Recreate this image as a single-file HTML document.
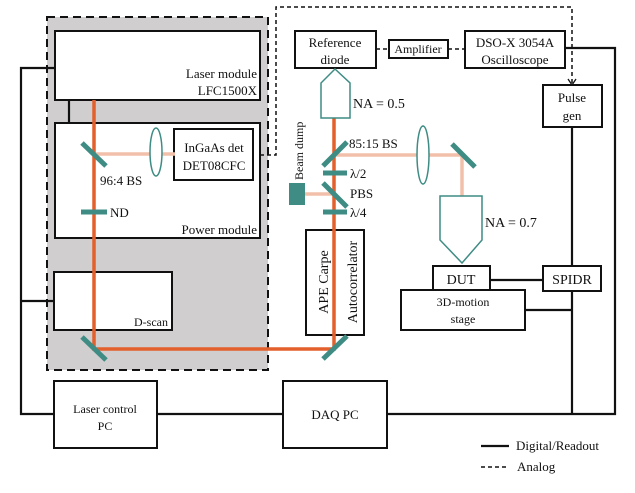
<!DOCTYPE html>
<html><head><meta charset="utf-8"><style>
body{margin:0;background:#fff}
svg text{font-family:"Liberation Serif",serif;font-size:13px;fill:#111}
</style></head><body>
<svg width="635" height="488" viewBox="0 0 635 488" xmlns="http://www.w3.org/2000/svg">
<rect x="47" y="17" width="221" height="353" fill="#d0cecf" stroke="#111" stroke-width="2" stroke-dasharray="8,5"/>
<g fill="none" stroke="#111" stroke-width="2.2">
<path d="M69,100V123"/>
<path d="M55,68H21V414H54"/>
<path d="M21,301H54"/>
<path d="M157,414H283"/>
<path d="M387,414H615V48H565"/>
<path d="M572,414V127"/>
<path d="M490,280H543"/>
<path d="M525,310H572"/>
<path d="M481,446H509"/>
</g>
<g fill="none" stroke="#111" stroke-width="1.5" stroke-dasharray="4,3">
<path d="M253,155H276V7H572V84"/>
<path d="M376,49H389M448,49H465"/>
<path d="M481,467H509"/>
</g>
<path d="M568,79L572,85L576,79" fill="none" stroke="#111" stroke-width="1.3"/>
<g fill="#fff" stroke="#111" stroke-width="2">
<rect x="55" y="31" width="205" height="69"/>
<rect x="55" y="123" width="205" height="115"/>
<rect x="54" y="272" width="118" height="58"/>
<rect x="174" y="129" width="79" height="51"/>
<rect x="54" y="381" width="103" height="67"/>
<rect x="283" y="381" width="104" height="67"/>
<rect x="295" y="31" width="81" height="37"/>
<rect x="389" y="40" width="59" height="18"/>
<rect x="465" y="31" width="100" height="37"/>
<rect x="543" y="85" width="59" height="42"/>
<rect x="306" y="230" width="58" height="105"/>
<rect x="433" y="266" width="57" height="24"/>
<rect x="401" y="290" width="124" height="40"/>
<rect x="543" y="266" width="58" height="25"/>
</g>
<g stroke="#f2c0aa" stroke-width="3.5" fill="none">
<path d="M94,154H175"/>
<path d="M334,155H462V196"/>
<path d="M305,194H334"/>
</g>
<g stroke="#e35f2c" stroke-width="3.5" fill="none">
<path d="M94,100V349H334V118"/>
</g>
<g stroke="#3e8c84" stroke-width="5" fill="none">
<path d="M82,143L106,166"/>
<path d="M81,212H107"/>
<path d="M82,337L106,360"/>
<path d="M323,359L347,336"/>
<path d="M323,166L347,142"/>
<path d="M323,173H347"/>
<path d="M323,183L347,207"/>
<path d="M323,212H347"/>
<path d="M452,144L475,167"/>
</g>
<rect x="289" y="183" width="16" height="22" fill="#3e8c84"/>
<g fill="#fff" stroke="#3e8c84" stroke-width="1.5">
<ellipse cx="156" cy="152" rx="6" ry="24"/>
<ellipse cx="423" cy="155" rx="6" ry="29"/>
<path d="M335,69L350,83V118H321V83Z"/>
<path d="M440,196H482V240L462,263L440,240Z"/>
</g>
<text x="257" y="78" text-anchor="end">Laser module</text>
<text x="257" y="95" text-anchor="end">LFC1500X</text>
<text x="214" y="152" text-anchor="middle">InGaAs det</text>
<text x="214" y="170" text-anchor="middle">DET08CFC</text>
<text x="100" y="185">96:4 BS</text>
<text x="110" y="217">ND</text>
<text x="257" y="234" text-anchor="end">Power module</text>
<text x="168" y="326" text-anchor="end" style="font-size:12px">D-scan</text>
<text x="105" y="413" text-anchor="middle" style="font-size:12px">Laser control</text>
<text x="105" y="430" text-anchor="middle" style="font-size:12px">PC</text>
<text x="335" y="419" text-anchor="middle">DAQ PC</text>
<text x="335" y="47" text-anchor="middle">Reference</text>
<text x="335" y="64" text-anchor="middle">diode</text>
<text x="418" y="53" text-anchor="middle" style="font-size:12px">Amplifier</text>
<text x="515" y="47" text-anchor="middle">DSO-X 3054A</text>
<text x="515" y="64" text-anchor="middle">Oscilloscope</text>
<text x="572" y="102" text-anchor="middle">Pulse</text>
<text x="572" y="120" text-anchor="middle">gen</text>
<text x="353" y="108" style="font-size:14px">NA = 0.5</text>
<text x="349" y="148">85:15 BS</text>
<text x="350" y="178">λ/2</text>
<text x="350" y="198">PBS</text>
<text x="350" y="217">λ/4</text>
<text transform="translate(303,180) rotate(-90)" style="font-size:12px">Beam dump</text>
<text transform="translate(328,282) rotate(-90)" text-anchor="middle" style="font-size:14px">APE Carpe</text>
<text transform="translate(357,282) rotate(-90)" text-anchor="middle" style="font-size:14px">Autocorrelator</text>
<text x="485" y="227" style="font-size:14px">NA = 0.7</text>
<text x="461" y="284" text-anchor="middle" style="font-size:14px">DUT</text>
<text x="572" y="284" text-anchor="middle" style="font-size:14px">SPIDR</text>
<text x="463" y="306" text-anchor="middle" style="font-size:12px">3D-motion</text>
<text x="463" y="323" text-anchor="middle" style="font-size:12px">stage</text>
<text x="516" y="450">Digital/Readout</text>
<text x="517" y="471">Analog</text>
</svg>
</body></html>
